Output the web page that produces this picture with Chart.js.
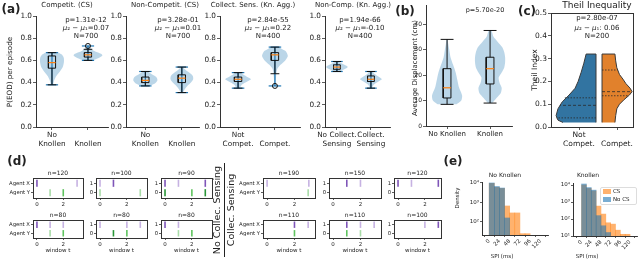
<!DOCTYPE html>
<html>
<head>
<meta charset="utf-8">
<script src="https://cdn.jsdelivr.net/npm/chart.js@4.4.0/dist/chart.umd.min.js"></script>
<style>
  body { margin:0; background:#fff; width:640px; height:261px; overflow:hidden; position:relative; font-family:'DejaVu Sans',sans-serif; color:#222; }
  canvas { position:absolute; }
  .t { position:absolute; white-space:nowrap; transform:translate(-50%,-50%); line-height:1; }
</style>
</head>
<body>
<script>
// ---- (a) violin + box panels ----
const aTitles = ['Competit. (CS)', 'Non-Competit. (CS)', 'Collect. Sens. (Kn. Agg.)', 'Non-Comp. (Kn. Agg.)'];
const aTickLabels = [
  [['No', 'Knollen'], ['', 'Knollen']],
  [['No', 'Knollen'], ['', 'Knollen']],
  [['Not', 'Compet.'], ['', 'Compet.']],
  [['No Collect.', 'Sensing'], ['Collect.', 'Sensing']]
];
const aPvals = ['p=1.31e-12', 'p=3.28e-01', 'p=2.84e-55', 'p=1.94e-66'];
const aDiffs = ['0.07', '0.01', '0.22', '-0.10'];
const aN = ['N=700', 'N=700', 'N=400', 'N=400'];
const aViolinY = [
  [[0.38, 0.42, 0.46, 0.50, 0.54, 0.58, 0.62, 0.65, 0.67], [0.60, 0.62, 0.645, 0.66, 0.68, 0.70, 0.72, 0.73]],
  [[0.37, 0.39, 0.42, 0.45, 0.47, 0.49, 0.50], [0.31, 0.34, 0.37, 0.40, 0.43, 0.46, 0.49, 0.52, 0.54]],
  [[0.35, 0.38, 0.41, 0.43, 0.45, 0.47, 0.49], [0.37, 0.45, 0.52, 0.56, 0.60, 0.64, 0.68, 0.70, 0.72]],
  [[0.50, 0.52, 0.54, 0.56, 0.58, 0.59], [0.35, 0.38, 0.41, 0.43, 0.45, 0.48, 0.50]]
];
const aViolinW = [
  [[0.03, 0.06, 0.12, 0.22, 0.30, 0.33, 0.33, 0.28, 0.18], [0.12, 0.28, 0.40, 0.36, 0.20, 0.10, 0.05, 0.03]],
  [[0.10, 0.25, 0.33, 0.30, 0.20, 0.10, 0.05], [0.03, 0.08, 0.15, 0.25, 0.31, 0.30, 0.20, 0.08, 0.03]],
  [[0.05, 0.10, 0.25, 0.35, 0.25, 0.15, 0.05], [0.02, 0.03, 0.06, 0.15, 0.28, 0.35, 0.30, 0.20, 0.10]],
  [[0.08, 0.22, 0.32, 0.22, 0.08, 0.03], [0.03, 0.08, 0.22, 0.32, 0.24, 0.10, 0.04]]
];
// [lower whisker, q1, median, q3, upper whisker]
const aBox = [
  [[0.38, 0.53, 0.58, 0.64, 0.67], [0.60, 0.63, 0.65, 0.67, 0.70]],
  [[0.37, 0.40, 0.42, 0.45, 0.50], [0.31, 0.40, 0.44, 0.47, 0.54]],
  [[0.35, 0.41, 0.43, 0.45, 0.49], [0.48, 0.60, 0.65, 0.67, 0.72]],
  [[0.50, 0.52, 0.54, 0.56, 0.59], [0.35, 0.41, 0.43, 0.46, 0.50]]
];
const aOutliers = [[[], [0.73]], [[], []], [[], [0.37]], [[], []]];
const aYTicks = [0, 0.2, 0.4, 0.6, 0.8, 1.0];

// ---- (b) displacement ----
const bLabels = ['No Knollen', 'Knollen'];
const bViolinY = [
  [8.5, 10, 12, 15, 18, 21, 24, 27, 30, 32, 34],
  [9, 11, 13, 15, 17, 19, 21, 23, 25, 27, 29, 31, 33, 35, 37.5]
];
const bViolinW = [
  [0.22, 0.33, 0.35, 0.28, 0.24, 0.20, 0.14, 0.08, 0.05, 0.03, 0.01],
  [0.05, 0.15, 0.25, 0.27, 0.22, 0.20, 0.27, 0.33, 0.35, 0.35, 0.33, 0.28, 0.18, 0.08, 0.03]
];
const bBox = [[8.5, 11, 15, 22.5, 34], [9, 16.5, 22.5, 27, 37.5]];
const bYTicks = [0, 10, 20, 30, 40];

// ---- (c) Theil index split violins ----
const cLabels = [['Not', 'Compet.'], ['', 'Compet.']];
const cBlueY = [0.02, 0.03, 0.05, 0.08, 0.11, 0.14, 0.17, 0.20, 0.24, 0.28, 0.32];
const cBlueW = [0.87, 1.00, 1.05, 1.00, 0.89, 0.71, 0.55, 0.47, 0.39, 0.32, 0.26];
const cOrangeY = [0.02, 0.05, 0.08, 0.10, 0.12, 0.14, 0.155, 0.17, 0.19, 0.21, 0.23, 0.26, 0.29, 0.32];
const cOrangeW = [0.34, 0.36, 0.39, 0.46, 0.58, 0.72, 0.79, 0.74, 0.63, 0.55, 0.46, 0.39, 0.36, 0.34];
const cBlueQ = [0.04, 0.095, 0.128];
const cBlueQW = [1.04, 0.95, 0.82];
const cOrangeQ = [0.137, 0.155, 0.25];
const cOrangeQW = [0.70, 0.79, 0.41];
const cYTicks = [0, 0.1, 0.2, 0.3, 0.4, 0.5];

// ---- (d) event rasters (row 1 then row 2, six columns each) ----
const dTitles = ['n=120', 'n=100', 'n=90', 'n=190', 'n=150', 'n=120', 'n=80', 'n=80', 'n=80', 'n=110', 'n=110', 'n=100'];
const dXdark = [[0], [1], [0, 3], [], [1], [0, 3], [0], [], [0], [2], [1], [3]];
const dXlight = [[3.05], [0], [1], [0, 3.05], [2], [1], [1, 2], [0, 2, 3], [1], [3], [2, 3], [2]];
const dYdark = [[], [], [0, 3], [], [], [], [], [1], [], [], [], []];
const dYmid = [[2], [], [2], [], [], [], [2], [2], [2], [2], [1], []];
const dYlight = [[1], [0, 3], [], [3], [], [], [1], [], [1], [], [2], []];

// ---- (e) SPI histograms (bin centres, densities) ----
const eBinsNoKn = [6, 18, 30, 42, 54, 66, 78, 90];
const eNoKnCS = [9550, 6030, 5250, 660, 290, 290, 25, 25];
const eNoKnNoCS = [10000, 6600, 5500, 160];
const eBinsKn = [6, 18, 30, 42, 54, 66, 78, 90, 102, 114];
const eKnCS = [10000, 6310, 4470, 575, 195, 60, 50, 22, 12.6, 12.6];
const eKnNoCS = [11500, 7080, 5010, 158, 40, 16];
const eXTicks = [0, 24, 48, 72, 96, 120];

Chart.defaults.font.family = "'DejaVu Sans', sans-serif";
Chart.defaults.color = '#222';
Chart.defaults.plugins.legend.display = false;
Chart.defaults.plugins.tooltip.enabled = false;
Chart.defaults.events = [];

const AX = '#333';

function lin(min, max, ticks, labels, fs, tl) {
  return {
    type: 'linear', min: min, max: max, bounds: 'data',
    afterBuildTicks: s => { s.ticks = ticks.map(v => ({ value: v })); },
    ticks: { callback: (v, i) => labels ? labels[i] : v, font: { size: fs }, padding: 1, maxRotation: 0, minRotation: 0, autoSkip: false, color: '#222' },
    grid: { drawOnChartArea: false, drawTicks: true, tickLength: tl || 3, color: AX, lineWidth: 0.8 },
    border: { display: true, color: AX, width: 1 }
  };
}

function addFrame(scales) {
  scales.x2 = { type: 'linear', position: 'top', min: 0, max: 1, ticks: { display: false }, grid: { drawOnChartArea: false, drawTicks: false }, border: { display: true, color: AX, width: 1 }, afterFit: s => { s.height = 0; } };
  scales.y2 = { type: 'linear', position: 'right', min: 0, max: 1, ticks: { display: false }, grid: { drawOnChartArea: false, drawTicks: false }, border: { display: true, color: AX, width: 1 }, afterFit: s => { s.width = 0; } };
}

// area = [left, top, right, bottom] of the plot area on the page
function mk(area, yw, xh, type, datasets, scales) {
  const pt = 8, pr = 10;
  const L = area[0] - yw, T = area[1] - pt;
  const W = area[2] - L + pr, H = area[3] - T + xh;
  const cv = document.createElement('canvas');
  cv.width = W; cv.height = H;
  Object.assign(cv.style, { left: L + 'px', top: T + 'px', width: W + 'px', height: H + 'px' });
  document.body.appendChild(cv);
  scales.x.afterFit = s => { s.height = xh; };
  scales.y.afterFit = s => { s.width = yw; };
  return new Chart(cv, {
    type: type,
    data: { datasets: datasets },
    options: { responsive: false, animation: false, devicePixelRatio: 1,
      layout: { padding: { top: pt, right: pr, left: 0, bottom: 0 } }, scales: scales }
  });
}

function violin(c, ys, ws, color) {
  const pts = ys.map((y, i) => ({ x: c + ws[i], y: y }));
  for (let i = ys.length - 1; i >= 0; i--) pts.push({ x: c - ws[i], y: ys[i] });
  return { data: pts, showLine: true, fill: 'shape', backgroundColor: color, borderColor: 'rgba(0,0,0,0)', borderWidth: 0, pointRadius: 0, tension: 0.25 };
}
function seg(x1, y1, x2, y2, color, w, dash) {
  return { data: [{ x: x1, y: y1 }, { x: x2, y: y2 }], showLine: true, borderColor: color, borderWidth: w, pointRadius: 0, fill: false, borderDash: dash || [] };
}
function rect(x1, y1, x2, y2, color) {
  return { data: [{ x: x1, y: y1 }, { x: x2, y: y1 }, { x: x2, y: y2 }, { x: x1, y: y2 }, { x: x1, y: y1 }], showLine: true, borderColor: color, borderWidth: 1, pointRadius: 0, fill: false };
}
function boxSet(ds, c, b, hw, cw) {
  ds.push(seg(c, b[0], c, b[1], '#111', 1));
  ds.push(seg(c, b[3], c, b[4], '#111', 1));
  ds.push(seg(c - cw, b[0], c + cw, b[0], '#111', 1));
  ds.push(seg(c - cw, b[4], c + cw, b[4], '#111', 1));
  ds.push(rect(c - hw, b[1], c + hw, b[3], '#111'));
  ds.push(seg(c - hw, b[2], c + hw, b[2], '#ff7f0e', 1.2));
}

// (a)
const aAxisL = [36, 126, 220, 325], aRight = [108, 199, 300, 390];
const aXmin = [0.556, 0.47, 0.51, 0.65], aXmax = [2.556, 2.47, 2.68, 2.56];
for (let k = 0; k < 4; k++) {
  const ds = [];
  for (let j = 0; j < 2; j++) {
    const c = j + 1, ys = aViolinY[k][j], ws = aViolinW[k][j];
    const lo = ys[0], hi = ys[ys.length - 1];
    ds.push(violin(c, ys, ws, 'rgba(31,119,180,0.3)'));
    ds.push(seg(c, lo, c, hi, '#1f77b4', 1.2));
    ds.push(seg(c - 0.17, lo, c + 0.17, lo, '#1f77b4', 1.2));
    ds.push(seg(c - 0.17, hi, c + 0.17, hi, '#1f77b4', 1.2));
    boxSet(ds, c, aBox[k][j], 0.1, 0.12);
    if (aOutliers[k][j].length) {
      ds.push({ data: aOutliers[k][j].map(y => ({ x: c, y: y })), pointStyle: 'circle', pointRadius: 2.5,
        pointBorderColor: '#111', pointBackgroundColor: 'rgba(0,0,0,0)', pointBorderWidth: 1, showLine: false });
    }
  }
  ds.reverse();
  mk([aAxisL[k], 16, aRight[k], 127], 30, 30, 'scatter', ds, {
    x: lin(aXmin[k], aXmax[k], [1, 2], aTickLabels[k], 7.3),
    y: lin(0, 1, aYTicks, aYTicks.map(v => v.toFixed(1)), 7.3)
  });
}

// (b)
{
  const ds = [];
  for (let j = 0; j < 2; j++) {
    ds.push(violin(j + 1, bViolinY[j], bViolinW[j], 'rgba(31,119,180,0.3)'));
    boxSet(ds, j + 1, bBox[j], 0.09, 0.15);
  }
  ds.reverse();
  mk([426, 5, 512, 126], 14, 16, 'scatter', ds, {
    x: lin(0.51, 2.51, [1, 2], bLabels, 7),
    y: lin(0, 47.5, bYTicks, null, 6)
  });
}

// (c)
{
  const fb = 1.447, fo = 1.605;
  const ds = [];
  const bp = [{ x: fb, y: cBlueY[0] }, { x: fb, y: cBlueY[cBlueY.length - 1] }];
  for (let i = cBlueY.length - 1; i >= 0; i--) bp.push({ x: fb - cBlueW[i], y: cBlueY[i] });
  const op = [{ x: fo, y: cOrangeY[0] }, { x: fo, y: cOrangeY[cOrangeY.length - 1] }];
  for (let i = cOrangeY.length - 1; i >= 0; i--) op.push({ x: fo + cOrangeW[i], y: cOrangeY[i] });
  ds.push({ data: bp, showLine: true, fill: 'shape', backgroundColor: '#3274a1', borderColor: '#3a3a3a', borderWidth: 1, pointRadius: 0, tension: 0 });
  ds.push({ data: op, showLine: true, fill: 'shape', backgroundColor: '#e1812c', borderColor: '#3a3a3a', borderWidth: 1, pointRadius: 0, tension: 0 });
  cBlueQ.forEach((q, i) => ds.push(seg(fb, q, fb - cBlueQW[i], q, '#2a2a2a', 0.8, i === 1 ? [3, 2] : [1.5, 1.5])));
  cOrangeQ.forEach((q, i) => ds.push(seg(fo, q, fo + cOrangeQW[i], q, '#2a2a2a', 0.8, i === 1 ? [3, 2] : [1.5, 1.5])));
  ds.reverse();
  const sc = {
    x: lin(0.263, 2.42, [1, 2], cLabels, 7.5),
    y: lin(0, 0.5, cYTicks, cYTicks.map(v => v.toFixed(1)), 7.5)
  };
  addFrame(sc);
  mk([551, 13, 633, 127], 22, 26, 'scatter', ds, sc);
}

// (d)
const dFrameL = [33, 96, 161, 263, 329, 394], dFrameW = [50, 51, 51, 52, 52, 47];
const dRowT = [178, 220], dRowH = [20, 18];
const PURD = '#7f55b8', PURL = '#c6b2e2', GRD = '#2a9638', GRM = '#5fc35f', GRL = '#a8dca8';
function ev(xs, y, color, r) {
  return { data: xs.map(x => ({ x: x, y: y })), showLine: false, pointStyle: 'line', pointRotation: 90, pointRadius: r,
    pointBorderColor: color, pointBackgroundColor: color, pointBorderWidth: 1.6 };
}
for (let idx = 0; idx < 12; idx++) {
  const col = idx % 6, row = Math.floor(idx / 6);
  const agent = (col === 0 || col === 3);
  const r = row === 0 ? 3.6 : 3.2;
  const ds = [
    ev(dXdark[idx], 1, PURD, r), ev(dXlight[idx], 1, PURL, r),
    ev(dYdark[idx], 0, GRD, r), ev(dYmid[idx], 0, GRM, r), ev(dYlight[idx], 0, GRL, r)
  ];
  const sc = {
    x: lin(-0.3, col === 5 ? 3.2 : 3.5, [0, 2], ['0', '2'], 5.5, 2),
    y: lin(-0.55, 1.55, [0, 1], agent ? ['Agent Y', 'Agent X'] : ['0', '1'], 5.3, 2)
  };
  addFrame(sc);
  const L = dFrameL[col], T = dRowT[row];
  mk([L, T, L + dFrameW[col], T + dRowH[row]], agent ? 30 : 10, 10, 'scatter', ds, sc);
}

// (e)
const sup = { 1: '¹', 2: '²', 3: '³', 4: '⁴' };
function logAxis(min, max, ticks) {
  return {
    type: 'logarithmic', min: min, max: max,
    afterBuildTicks: s => { s.ticks = ticks.map(v => ({ value: v })); },
    ticks: { callback: v => '10' + sup[Math.round(Math.log10(v))], font: { size: 5.5 }, padding: 1, autoSkip: false, color: '#222' },
    grid: { drawOnChartArea: false, drawTicks: true, tickLength: 2, color: AX, lineWidth: 0.8 },
    border: { display: true, color: AX, width: 1 }
  };
}
function hist(bins, vals, color) {
  return { type: 'bar', data: vals.map((v, i) => ({ x: bins[i], y: v })), backgroundColor: color, borderWidth: 0,
    barPercentage: 1, categoryPercentage: 1, grouped: false };
}
const BLU = 'rgba(31,119,180,0.6)', ORA = 'rgba(255,127,14,0.6)';
{
  const x = lin(-4, 125, eXTicks, null, 5.5, 2);
  x.ticks.minRotation = 45; x.ticks.maxRotation = 45;
  mk([482, 182, 548, 235], 16, 22, 'bar', [hist(eBinsNoKn, eNoKnNoCS, BLU), hist(eBinsNoKn, eNoKnCS, ORA)],
    { x: x, y: logAxis(21.4, 11220, [100, 1000, 10000]) });
}
{
  const x = lin(-8, 124, eXTicks, null, 5.5, 2);
  x.ticks.minRotation = 45; x.ticks.maxRotation = 45;
  mk([573, 183, 637, 236], 16, 22, 'bar', [hist(eBinsKn, eKnNoCS, BLU), hist(eBinsKn, eKnCS, ORA)],
    { x: x, y: logAxis(10, 13180, [10, 100, 1000, 10000]) });
}

// ---- text ----
function txt(s, x, y, size, o) {
  o = o || {};
  const d = document.createElement('div');
  d.className = 't';
  d.innerHTML = s;
  d.style.left = x + 'px'; d.style.top = y + 'px'; d.style.fontSize = size + 'px';
  if (o.rot) d.style.transform = 'translate(-50%,-50%) rotate(-90deg)';
  if (o.bold) d.style.fontWeight = 'bold';
  document.body.appendChild(d);
}
const MU = '<i>μ</i>₂ − <i>μ</i>₁';

txt('(a)', 11, 9, 12, { bold: true });
txt('P(EOD) per episode', 10, 72, 7.2, { rot: true });
const aTitleX = [67, 165, 253, 353], aStatX = [86, 178, 268, 360];
for (let k = 0; k < 4; k++) {
  txt(aTitles[k], aTitleX[k], 5, 7);
  txt(aPvals[k], aStatX[k], 20, 7);
  txt(MU + '=' + aDiffs[k], aStatX[k], 28, 7);
  txt(aN[k], aStatX[k], 36, 7);
}

txt('(b)', 405, 11, 12, { bold: true });
txt('p=5.70e-20', 485, 10, 6.5);
txt('Average Displacement (cm)', 415, 68, 6.9, { rot: true });

txt('(c)', 527, 11, 12, { bold: true });
txt('Theil Inequality', 597, 5, 9);
txt('p=2.80e-07', 597, 18, 7);
txt(MU + ': 0.06', 597, 28, 7);
txt('N=200', 597, 36, 7);
txt('Theil Index', 535, 70, 7.6, { rot: true });

txt('(d)', 17, 161, 12, { bold: true });
for (let idx = 0; idx < 12; idx++) {
  const col = idx % 6, row = Math.floor(idx / 6);
  const cx = dFrameL[col] + dFrameW[col] / 2;
  txt(dTitles[idx], cx, row === 0 ? 173 : 215, 6);
  if (row === 1) txt('window t', cx, 251, 5.5);
}
txt('No Collec. Sensing', 217, 210, 9.5, { rot: true });
txt('Collec. Sensing', 231, 210, 9.5, { rot: true });
{
  const ln = document.createElement('div');
  Object.assign(ln.style, { position: 'absolute', left: '224px', top: '163px', width: '1px', height: '94px', background: '#222' });
  document.body.appendChild(ln);
}

txt('(e)', 453, 161, 12, { bold: true });
txt('No Knollen', 505, 175, 6);
txt('Knollen', 588, 175, 6);
txt('SPI (ms)', 502, 257, 5.5);
txt('SPI (ms)', 587, 257, 5.5);
txt('Density', 458, 198, 5.5, { rot: true });
{
  const lg = document.createElement('div');
  Object.assign(lg.style, { position: 'absolute', left: '600px', top: '187px', width: '37px', height: '18px',
    border: '1px solid #ddd', borderRadius: '2px', background: 'rgba(255,255,255,0.8)', boxSizing: 'border-box' });
  document.body.appendChild(lg);
  const p1 = document.createElement('div');
  Object.assign(p1.style, { position: 'absolute', left: '603px', top: '189px', width: '8px', height: '5px', background: ORA });
  const p2 = document.createElement('div');
  Object.assign(p2.style, { position: 'absolute', left: '603px', top: '197px', width: '8px', height: '5px', background: BLU });
  document.body.appendChild(p1); document.body.appendChild(p2);
  const t1 = document.createElement('div'); t1.className = 't'; t1.textContent = 'CS';
  Object.assign(t1.style, { left: '613px', top: '191.5px', fontSize: '5.5px', transform: 'translate(0,-50%)' });
  const t2 = document.createElement('div'); t2.className = 't'; t2.textContent = 'No CS';
  Object.assign(t2.style, { left: '613px', top: '199.5px', fontSize: '5.5px', transform: 'translate(0,-50%)' });
  document.body.appendChild(t1); document.body.appendChild(t2);
}
</script>
</body>
</html>
